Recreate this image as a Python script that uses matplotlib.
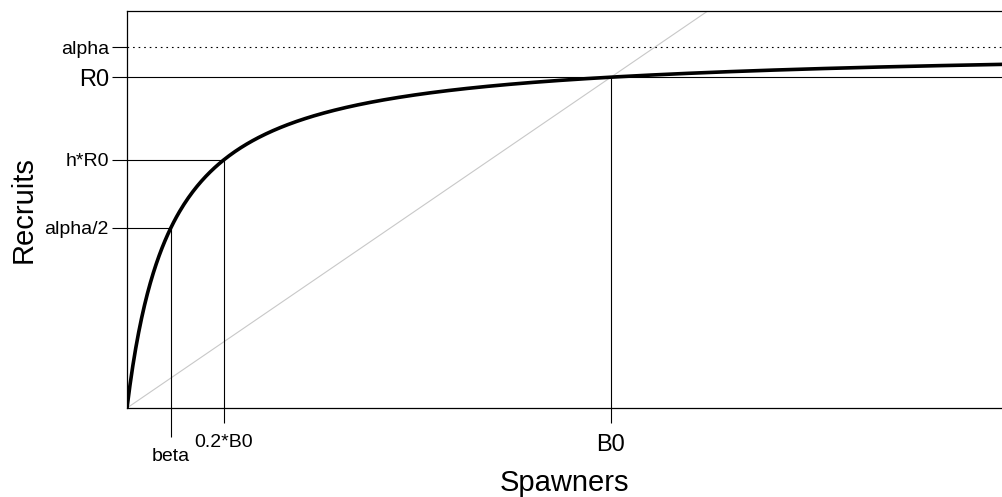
import numpy as np
import matplotlib.pyplot as plt

plt.rcParams['font.family'] = ['Liberation Sans', 'DejaVu Sans']

# Beverton-Holt parameters (in units of R0 and B0)
R0 = 1.0
B0 = 1.0
h = 0.75
x_max = 1.808
y_max = 1.2

alpha = 4 * h * R0 / (5 * h - 1)
beta = B0 * (1 - h) / (5 * h - 1)


def bh(s):
    return alpha * s / (beta + s)


fig = plt.figure(figsize=(10.02, 4.97), dpi=100)
ax = fig.add_axes([127 / 1002, 89 / 497, 1 - 127 / 1002, 397 / 497])

s = np.linspace(0, x_max, 600)
ax.plot(s, bh(s), color='black', lw=2.6, solid_capstyle='butt', zorder=4)

# replacement line through (B0, R0)
ax.plot([0, x_max], [0, x_max * R0 / B0], color='#c8c8c8', lw=0.8, zorder=2)

# reference lines
ax.axhline(alpha, color='black', lw=0.8, ls=(0, (1.5, 3.5)))
ax.axhline(R0, color='black', lw=0.8)
ax.plot([0, beta, beta], [bh(beta), bh(beta), 0], color='black', lw=0.8)
s_h = 0.2 * B0
ax.plot([0, s_h, s_h], [bh(s_h), bh(s_h), 0], color='black', lw=0.8)
ax.plot([B0, B0], [R0, 0], color='black', lw=0.8)

ax.set_xlim(0, x_max)
ax.set_ylim(0, y_max)

ax.set_xticks([0.2 * B0, B0], ['0.2*B0', 'B0'])
ax.set_xticks([beta], ['beta'], minor=True)
ax.set_yticks([alpha / 2, h * R0, R0, alpha], ['alpha/2', 'h*R0', 'R0', 'alpha'])
ax.tick_params(axis='y', which='major', length=11, width=0.8, labelsize=14, pad=2)
ax.tick_params(axis='x', which='major', length=11, width=0.8, labelsize=14, pad=8)
ax.tick_params(axis='x', which='minor', length=21, width=0.8, labelsize=14, pad=8)
ax.tick_params(axis='y', which='minor', left=False)
ax.get_xticklabels()[1].set_fontsize(17)
ax.get_yticklabels()[2].set_fontsize(17)

for side in ['left', 'bottom', 'top']:
    ax.spines[side].set_linewidth(0.9)
ax.spines['right'].set_visible(False)

ax.set_xlabel('Spawners', fontsize=21, labelpad=3)
ax.set_ylabel('Recruits', fontsize=21, labelpad=5)

fig.savefig('out.png', dpi=100)
